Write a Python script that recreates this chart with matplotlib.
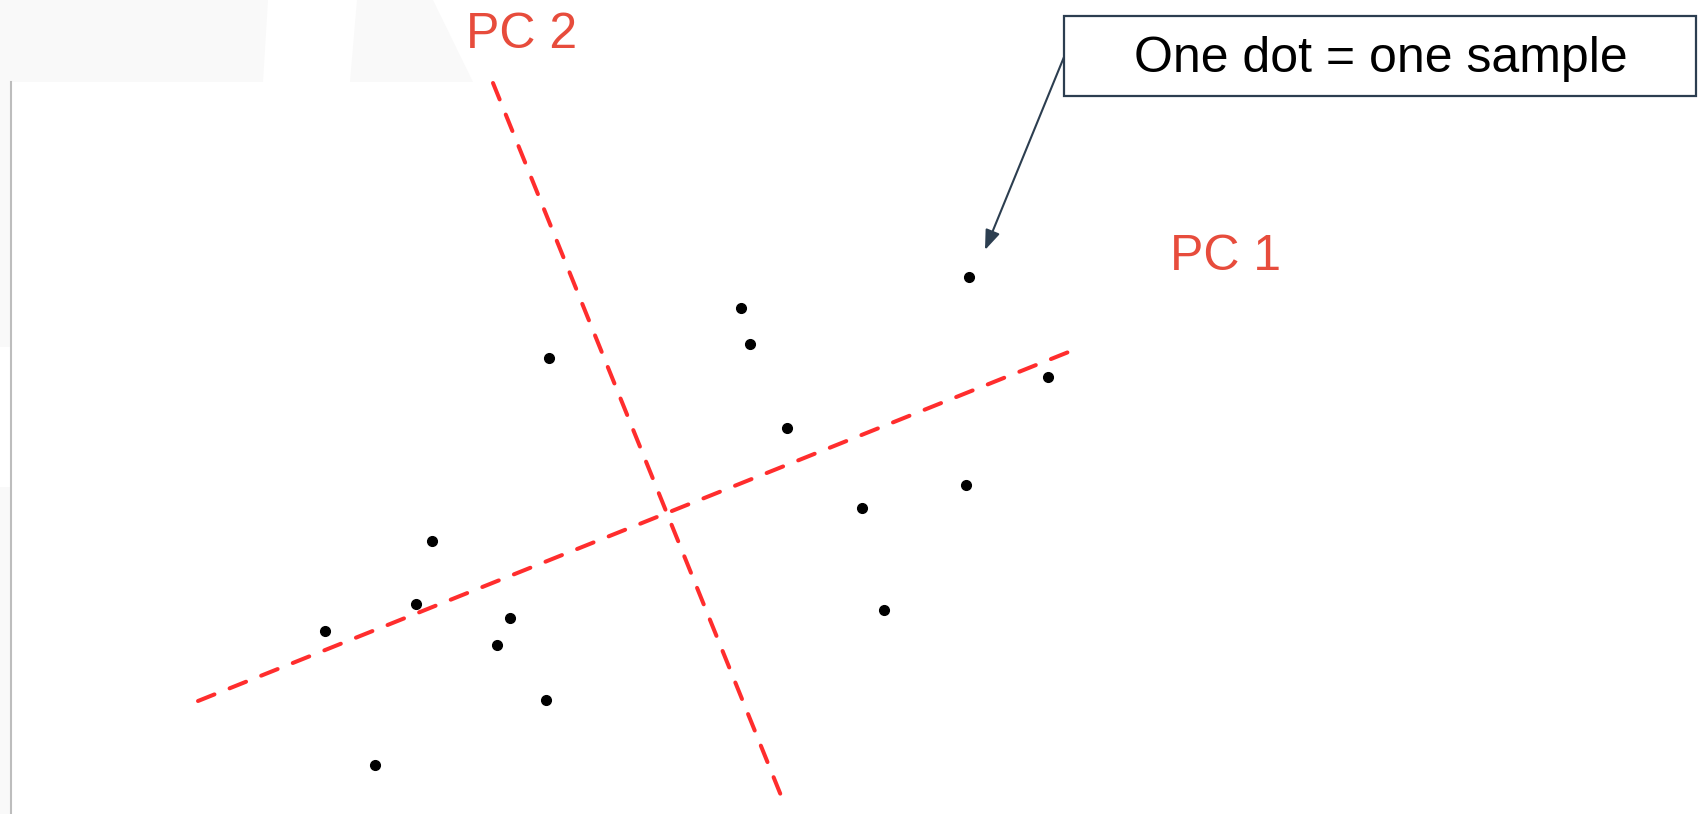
import matplotlib
matplotlib.use("Agg")
import matplotlib.pyplot as plt
from matplotlib.patches import Polygon, Rectangle

plt.rcParams['font.family'] = ['Liberation Sans', 'DejaVu Sans']

# sample positions (arbitrary units, 1 unit = 100 px of the canvas)
sample_x = [9.69, 7.41, 7.50, 5.49, 10.48, 7.87, 9.66, 8.62,
            4.32, 4.16, 3.25, 5.10, 4.97, 8.84, 5.46, 3.75]
sample_y = [5.37, 5.06, 4.70, 4.56, 4.37, 3.86, 3.29, 3.06,
            2.73, 2.10, 1.83, 1.96, 1.69, 2.04, 1.14, 0.49]

# principal component axes (start, end)
pc1_x = [1.98, 10.81]
pc1_y = [1.13, 4.67]
pc2_x = [4.93, 7.82]
pc2_y = [7.31, 0.16]

pc_labels = ["PC 1", "PC 2"]
note_text = "One dot = one sample"

RED = "#ff2d2d"
LABEL_RED = "#e74c3c"
SLATE = "#2c3e50"

fig = plt.figure(figsize=(16.98, 8.14), dpi=100)
ax = fig.add_axes([0, 0, 1, 1])
ax.set_xlim(0, 16.98)
ax.set_ylim(0, 8.14)
ax.axis('off')

# faint grey screenshot leftovers
grey = "#f9f9f9"
ax.add_patch(Polygon([(0, 8.14), (2.68, 8.14), (2.63, 7.32), (0, 7.32)],
                     closed=True, fc=grey, ec='none', zorder=0))
ax.add_patch(Polygon([(3.57, 8.14), (4.33, 8.14), (4.73, 7.32), (3.50, 7.32)],
                     closed=True, fc=grey, ec='none', zorder=0))
ax.add_patch(Rectangle((0, 4.67), 0.11, 2.65, fc=grey, ec='none', zorder=0))
ax.add_patch(Rectangle((0, 0), 0.11, 3.27, fc=grey, ec='none', zorder=0))
ax.plot([0.115, 0.115], [0, 7.32], color="#bdbdbd", lw=1.5, zorder=1)

# PC axes
for xs, ys in [(pc1_x, pc1_y), (pc2_x, pc2_y)]:
    ax.plot(xs, ys, color=RED, lw=2.9, dashes=(4.4, 4.05),
            dash_capstyle='round', zorder=2)

# samples
ax.plot(sample_x, sample_y, 'o', color='black', markersize=7, zorder=3)

# labels
ax.text(12.26, 5.57, pc_labels[0], color=LABEL_RED, fontsize=36,
        ha='center', va='center')
ax.text(5.22, 7.79, pc_labels[1], color=LABEL_RED, fontsize=36,
        ha='center', va='center')

# callout box
ax.add_patch(Rectangle((10.64, 7.18), 6.32, 0.80, fc='white', ec=SLATE,
                       lw=1.6, zorder=4))
ax.text(13.81, 7.55, note_text, fontsize=36, ha='center', va='center',
        color='black', zorder=5)
ax.annotate("", xy=(9.85, 5.64), xytext=(10.64, 7.57),
            arrowprops=dict(arrowstyle='-|>,head_length=0.4,head_width=0.15',
                            color=SLATE, lw=1.5,
                            mutation_scale=30, shrinkA=0, shrinkB=0),
            zorder=3)

fig.savefig("out.png", dpi=100)
